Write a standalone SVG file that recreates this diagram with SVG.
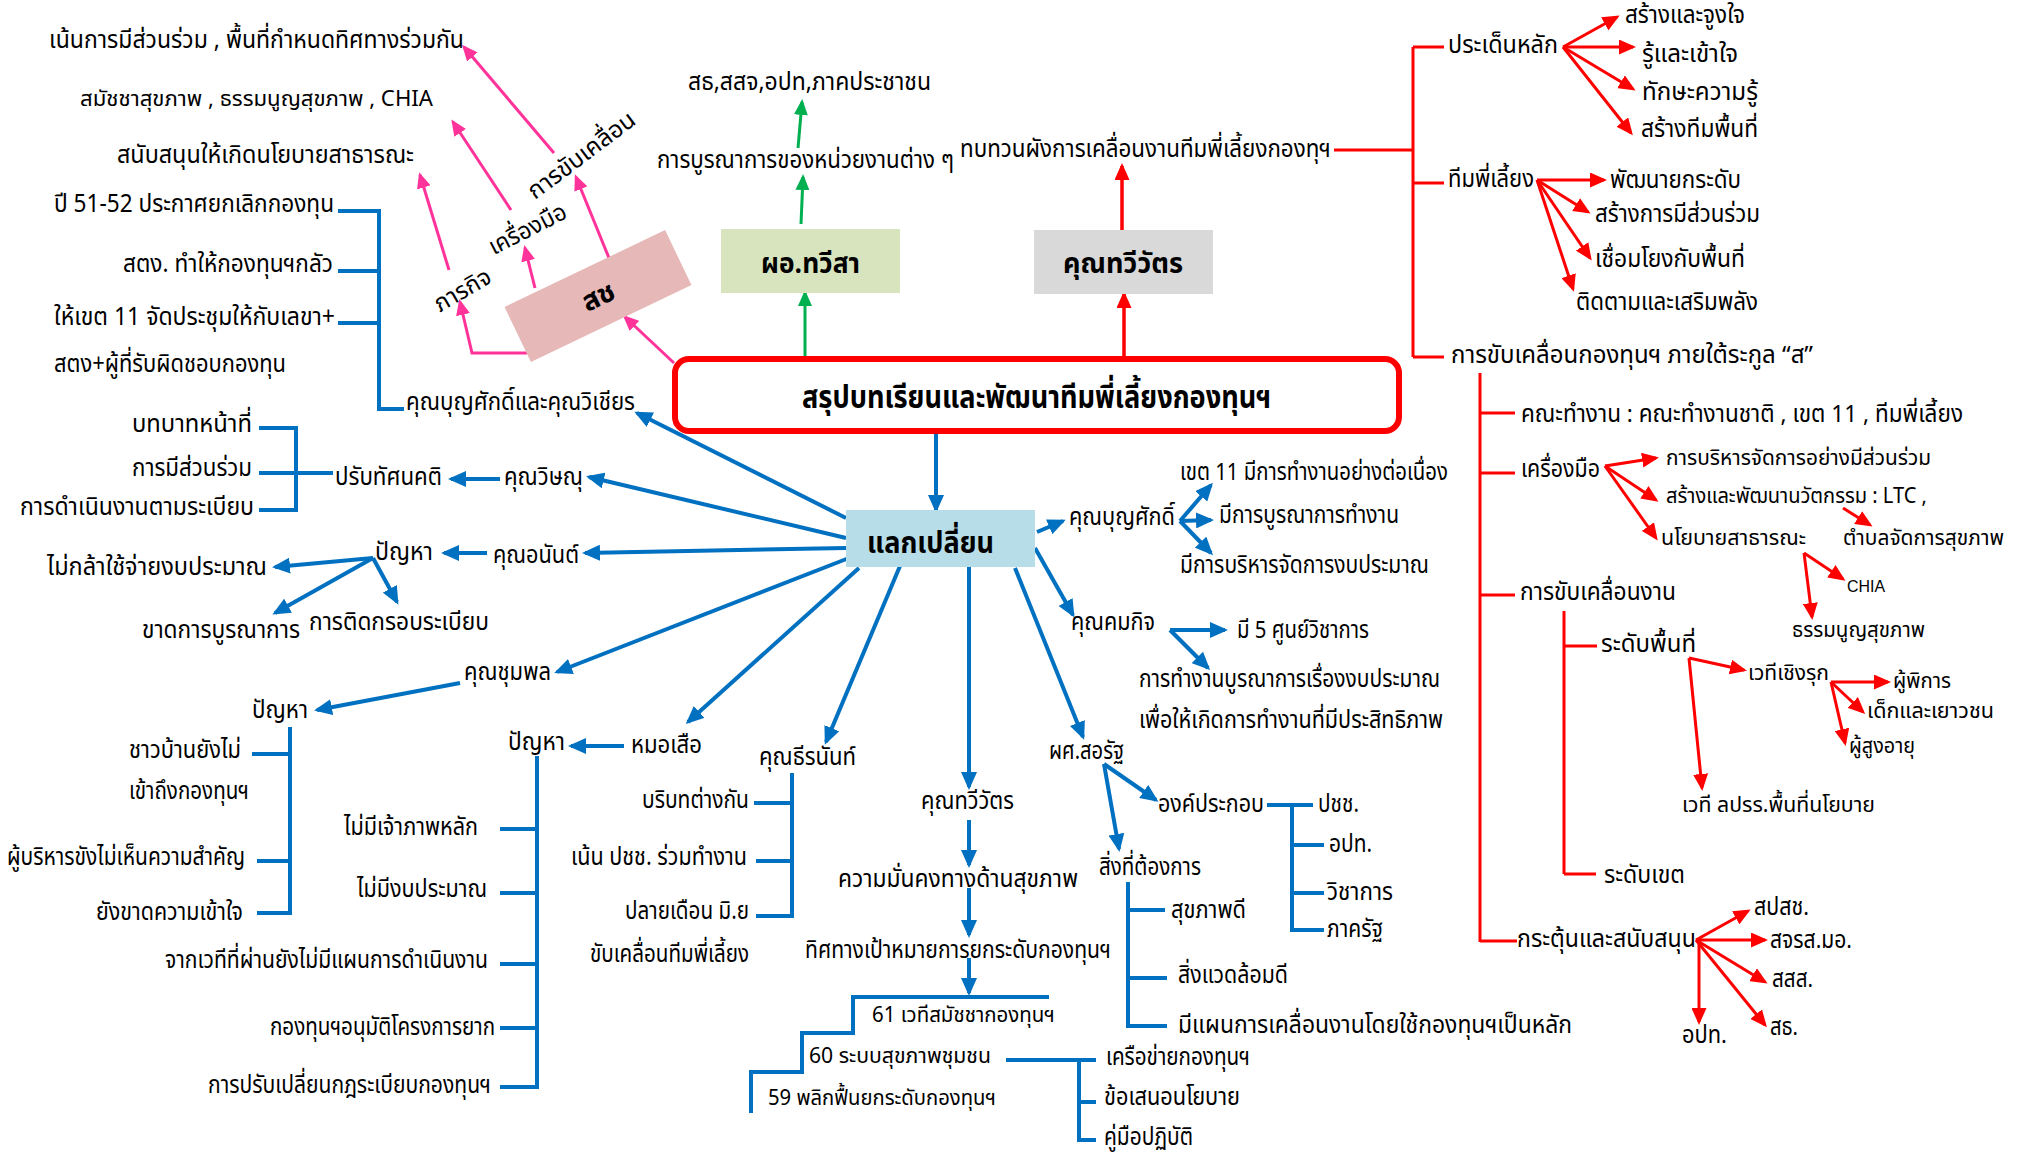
<svg xmlns="http://www.w3.org/2000/svg" width="2031" height="1156" viewBox="0 0 2031 1156">
<style>
text{font-family:"Noto Sans Thai","Noto Sans","DejaVu Sans",sans-serif;font-size:25px;fill:#000}
.s20{font-size:22px}.s22{font-size:24px}
.b{font-weight:bold}
.lat{font-family:"Liberation Sans",Arial,sans-serif;font-size:16px}
.bl{stroke:#0070C0;stroke-width:4;fill:none}
.rd{stroke:#FF0000;stroke-width:3;fill:none}
.pk{stroke:#FF3399;stroke-width:3;fill:none}
.gr{stroke:#00B050;stroke-width:3;fill:none}
.ab{marker-end:url(#mb)}.ar{marker-end:url(#mr)}.ap{marker-end:url(#mp)}.ag{marker-end:url(#mg)}
</style>
<defs>
<marker id="mb" markerUnits="userSpaceOnUse" markerWidth="18" markerHeight="16" refX="15" refY="8" orient="auto"><path d="M0,0 L18,8 L0,16 z" fill="#0070C0"/></marker>
<marker id="mr" markerUnits="userSpaceOnUse" markerWidth="17" markerHeight="15" refX="14" refY="7.5" orient="auto"><path d="M0,0 L17,7.5 L0,15 z" fill="#FF0000"/></marker>
<marker id="mp" markerUnits="userSpaceOnUse" markerWidth="16" markerHeight="14" refX="13" refY="7" orient="auto"><path d="M0,0 L16,7 L0,14 z" fill="#FF3399"/></marker>
<marker id="mg" markerUnits="userSpaceOnUse" markerWidth="16" markerHeight="14" refX="13" refY="7" orient="auto"><path d="M0,0 L16,7 L0,14 z" fill="#00B050"/></marker>
</defs>
<rect width="2031" height="1156" fill="#fff"/>

<g id="connectors">
<!-- pink -->
<line class="pk ap" x1="674" y1="363" x2="625" y2="317"/>
<polyline class="pk ap" points="527,353 472,353 460,302"/>
<line class="pk ap" x1="449" y1="270" x2="420" y2="175"/>
<line class="pk ap" x1="535" y1="288" x2="525" y2="248"/>
<line class="pk ap" x1="511" y1="210" x2="453" y2="122"/>
<line class="pk ap" x1="609" y1="258" x2="576" y2="177"/>
<line class="pk ap" x1="554" y1="153" x2="464" y2="47"/>
<!-- green -->
<line class="gr ag" x1="805" y1="357" x2="805" y2="293"/>
<line class="gr ag" x1="801" y1="224" x2="803" y2="177"/>
<line class="gr ag" x1="798" y1="148" x2="802" y2="102"/>
<!-- red -->
<line class="rd ar" style="stroke-width:3.5" x1="1124" y1="358" x2="1124" y2="294"/>
<line class="rd ar" style="stroke-width:3.5" x1="1122" y1="230" x2="1122" y2="166"/>
<path class="rd" d="M1334,150 H1413 M1413,47 V357 M1413,47 H1444 M1413,183 H1444 M1413,357 H1444"/>
<line class="rd ar" x1="1563" y1="47" x2="1617" y2="17"/>
<line class="rd ar" x1="1563" y1="47" x2="1633" y2="47"/>
<line class="rd ar" x1="1563" y1="47" x2="1633" y2="89"/>
<line class="rd ar" x1="1563" y1="47" x2="1631" y2="133"/>
<line class="rd ar" x1="1537" y1="180" x2="1604" y2="180"/>
<line class="rd ar" x1="1537" y1="180" x2="1588" y2="212"/>
<line class="rd ar" x1="1537" y1="180" x2="1590" y2="258"/>
<line class="rd ar" x1="1537" y1="180" x2="1573" y2="289"/>
<path class="rd" d="M1480,373 V942 M1480,413 H1515 M1480,473 H1515 M1480,595 H1515 M1480,941 H1517"/>
<line class="rd ar" x1="1605" y1="466" x2="1656" y2="458"/>
<line class="rd ar" x1="1605" y1="466" x2="1656" y2="500"/>
<line class="rd ar" x1="1605" y1="466" x2="1656" y2="538"/>
<line class="rd ar" x1="1843" y1="508" x2="1870" y2="525"/>
<line class="rd ar" x1="1804" y1="553" x2="1843" y2="579"/>
<line class="rd ar" x1="1804" y1="553" x2="1812" y2="617"/>
<path class="rd" d="M1564,611 V874 M1564,646 H1597 M1564,874 H1596"/>
<line class="rd ar" x1="1689" y1="658" x2="1744" y2="670"/>
<line class="rd ar" x1="1689" y1="658" x2="1702" y2="788"/>
<line class="rd ar" x1="1831" y1="682" x2="1888" y2="682"/>
<line class="rd ar" x1="1831" y1="682" x2="1863" y2="712"/>
<line class="rd ar" x1="1831" y1="682" x2="1845" y2="743"/>
<line class="rd ar" x1="1696" y1="940" x2="1748" y2="911"/>
<line class="rd ar" x1="1696" y1="940" x2="1765" y2="940"/>
<line class="rd ar" x1="1696" y1="940" x2="1765" y2="982"/>
<line class="rd ar" x1="1696" y1="940" x2="1765" y2="1025"/>
<line class="rd ar" x1="1699" y1="940" x2="1699" y2="1022"/>
<!-- blue spokes -->
<line class="bl ab" x1="936" y1="431" x2="936" y2="510"/>
<line class="bl ab" x1="846" y1="518" x2="637" y2="413"/>
<line class="bl ab" x1="846" y1="538" x2="589" y2="477"/>
<line class="bl ab" x1="846" y1="548" x2="585" y2="553"/>
<line class="bl ab" x1="849" y1="558" x2="557" y2="672"/>
<line class="bl ab" x1="859" y1="568" x2="688" y2="722"/>
<line class="bl ab" x1="900" y1="566" x2="826" y2="742"/>
<line class="bl ab" x1="969" y1="567" x2="969" y2="787"/>
<line class="bl ab" x1="1015" y1="568" x2="1083" y2="737"/>
<line class="bl ab" x1="1035" y1="548" x2="1073" y2="615"/>
<line class="bl ab" x1="1037" y1="532" x2="1063" y2="521"/>
<!-- blue sub-arrows -->
<line class="bl ab" x1="500" y1="479" x2="451" y2="479"/>
<line class="bl ab" x1="487" y1="553" x2="444" y2="553"/>
<line class="bl ab" x1="373" y1="558" x2="275" y2="567"/>
<line class="bl ab" x1="373" y1="558" x2="275" y2="613"/>
<line class="bl ab" x1="373" y1="558" x2="397" y2="602"/>
<line class="bl ab" x1="460" y1="683" x2="317" y2="710"/>
<line class="bl ab" x1="624" y1="746" x2="571" y2="746"/>
<line class="bl ab" x1="969" y1="820" x2="969" y2="865"/>
<line class="bl ab" x1="969" y1="888" x2="969" y2="935"/>
<line class="bl ab" x1="969" y1="958" x2="969" y2="993"/>
<line class="bl ab" x1="1104" y1="764" x2="1156" y2="800"/>
<line class="bl ab" x1="1104" y1="764" x2="1119" y2="849"/>
<line class="bl ab" x1="1170" y1="630" x2="1225" y2="630"/>
<line class="bl ab" x1="1170" y1="630" x2="1208" y2="668"/>
<line class="bl ab" x1="1180" y1="521" x2="1211" y2="485"/>
<line class="bl ab" x1="1180" y1="521" x2="1211" y2="520"/>
<line class="bl ab" x1="1180" y1="521" x2="1211" y2="553"/>
<!-- blue brackets -->
<path class="bl" d="M338,211 H379 V409 H404 M338,271 H379 M338,323 H379"/>
<path class="bl" d="M259,428 H296 V510 H259 M259,473 H333"/>
<path class="bl" d="M290,727 V915 M252,754 H290 M257,861 H290 M257,913 H290"/>
<path class="bl" d="M537,756 V1089 M500,829 H537 M500,893 H537 M500,964 H537 M500,1028 H537 M500,1087 H537"/>
<path class="bl" d="M792,773 V918 M754,803 H792 M756,861 H792 M756,916 H792"/>
<path class="bl" d="M1049,997 H853 V1033 H802 V1072 H751 V1113"/>
<path class="bl" d="M1006,1060 H1096 M1079,1060 V1142 M1079,1102 H1096 M1079,1140 H1096"/>
<path class="bl" d="M1267,805 H1313 M1292,805 V932 M1292,845 H1324 M1292,893 H1324 M1292,930 H1324"/>
<path class="bl" d="M1128,882 V1028 M1128,910 H1165 M1128,978 H1167 M1128,1026 H1167"/>
</g>

<g id="n-main"><rect x="675" y="359" width="724" height="72" rx="14" fill="#fff" stroke="#FF0000" stroke-width="6"/><text class="b" style="font-size:32px" x="802" y="408" textLength="469" lengthAdjust="spacingAndGlyphs">สรุปบทเรียนและพัฒนาทีมพี่เลี้ยงกองทุนฯ</text></g>

<g id="n-soch"><rect x="-89" y="-30.5" width="178" height="61" fill="#E6B8B7" transform="translate(598,296) rotate(-25.6)"/><text class="b" style="font-size:28px" text-anchor="middle" transform="translate(598,296) rotate(-25.6)" x="0" y="10">สช</text></g>
<g id="n-pk-mission"><text class="s22" text-anchor="middle" transform="translate(463,291) rotate(-30)" x="0" y="7" textLength="62" lengthAdjust="spacingAndGlyphs">ภารกิจ</text></g>
<g id="n-pk-tool"><text class="s22" text-anchor="middle" transform="translate(528,230) rotate(-27)" x="0" y="7" textLength="84" lengthAdjust="spacingAndGlyphs">เครื่องมือ</text></g>
<g id="n-pk-drive"><text class="s22" text-anchor="middle" transform="translate(582,156) rotate(-37)" x="0" y="7" textLength="128" lengthAdjust="spacingAndGlyphs">การขับเคลื่อน</text></g>
<g id="n-pk-1"><text x="49" y="48" textLength="415" lengthAdjust="spacingAndGlyphs">เน้นการมีส่วนร่วม , พื้นที่กำหนดทิศทางร่วมกัน</text></g>
<g id="n-pk-2"><text class="s20" x="80" y="106" textLength="353" lengthAdjust="spacingAndGlyphs">สมัชชาสุขภาพ , ธรรมนูญสุขภาพ , CHIA</text></g>
<g id="n-pk-3"><text x="117" y="163" textLength="297" lengthAdjust="spacingAndGlyphs">สนับสนุนให้เกิดนโยบายสาธารณะ</text></g>

<g id="n-green"><rect x="721" y="229" width="179" height="64" fill="#D7E4BD"/><text class="b" style="font-size:28px" x="761" y="273" textLength="99" lengthAdjust="spacingAndGlyphs">ผอ.ทวีสา</text></g>
<g id="n-g1"><text x="657" y="168" textLength="297" lengthAdjust="spacingAndGlyphs">การบูรณาการของหน่วยงานต่าง ๆ</text></g>
<g id="n-g2"><text x="688" y="90" textLength="243" lengthAdjust="spacingAndGlyphs">สธ,สสจ,อปท,ภาคประชาชน</text></g>

<g id="n-gray"><rect x="1034" y="230" width="179" height="64" fill="#D9D9D9"/><text class="b" style="font-size:28px" x="1063" y="273" textLength="120" lengthAdjust="spacingAndGlyphs">คุณทวีวัตร</text></g>
<g id="n-review"><text x="960" y="157" textLength="371" lengthAdjust="spacingAndGlyphs">ทบทวนผังการเคลื่อนงานทีมพี่เลี้ยงกองทุฯ</text></g>

<g id="n-r-issue"><text class="s22" x="1448" y="53" textLength="110" lengthAdjust="spacingAndGlyphs">ประเด็นหลัก</text></g>
<g id="n-r-i1"><text class="s22" x="1625" y="23" textLength="120" lengthAdjust="spacingAndGlyphs">สร้างและจูงใจ</text></g>
<g id="n-r-i2"><text class="s22" x="1642" y="62" textLength="96" lengthAdjust="spacingAndGlyphs">รู้และเข้าใจ</text></g>
<g id="n-r-i3"><text class="s22" x="1642" y="100" textLength="116" lengthAdjust="spacingAndGlyphs">ทักษะความรู้</text></g>
<g id="n-r-i4"><text class="s22" x="1641" y="137" textLength="117" lengthAdjust="spacingAndGlyphs">สร้างทีมพื้นที่</text></g>
<g id="n-r-team"><text class="s22" x="1448" y="187" textLength="86" lengthAdjust="spacingAndGlyphs">ทีมพี่เลี้ยง</text></g>
<g id="n-r-t1"><text class="s22" x="1610" y="188" textLength="131" lengthAdjust="spacingAndGlyphs">พัฒนายกระดับ</text></g>
<g id="n-r-t2"><text class="s22" x="1595" y="222" textLength="165" lengthAdjust="spacingAndGlyphs">สร้างการมีส่วนร่วม</text></g>
<g id="n-r-t3"><text class="s22" x="1595" y="267" textLength="150" lengthAdjust="spacingAndGlyphs">เชื่อมโยงกับพื้นที่</text></g>
<g id="n-r-t4"><text class="s22" x="1576" y="310" textLength="182" lengthAdjust="spacingAndGlyphs">ติดตามและเสริมพลัง</text></g>
<g id="n-r-drive"><text class="s22" x="1451" y="363" textLength="362" lengthAdjust="spacingAndGlyphs">การขับเคลื่อนกองทุนฯ ภายใต้ระกูล “ส”</text></g>
<g id="n-r-wg"><text class="s22" x="1521" y="422" textLength="442" lengthAdjust="spacingAndGlyphs">คณะทำงาน : คณะทำงานชาติ , เขต 11 , ทีมพี่เลี้ยง</text></g>
<g id="n-r-tool"><text class="s22" x="1521" y="477" textLength="79" lengthAdjust="spacingAndGlyphs">เครื่องมือ</text></g>
<g id="n-r-tl1"><text class="s20" x="1666" y="465" textLength="265" lengthAdjust="spacingAndGlyphs">การบริหารจัดการอย่างมีส่วนร่วม</text></g>
<g id="n-r-tl2"><text class="s20" x="1666" y="503" textLength="261" lengthAdjust="spacingAndGlyphs">สร้างและพัฒนานวัตกรรม : LTC ,</text></g>
<g id="n-r-tl3"><text class="s20" x="1661" y="545" textLength="145" lengthAdjust="spacingAndGlyphs">นโยบายสาธารณะ</text></g>
<g id="n-r-tl4"><text class="s20" x="1843" y="545" textLength="161" lengthAdjust="spacingAndGlyphs">ตำบลจัดการสุขภาพ</text></g>
<g id="n-r-chia"><text class="lat" x="1847" y="592" textLength="38" lengthAdjust="spacingAndGlyphs">CHIA</text></g>
<g id="n-r-tl5"><text class="s20" x="1792" y="637" textLength="133" lengthAdjust="spacingAndGlyphs">ธรรมนูญสุขภาพ</text></g>
<g id="n-r-work"><text class="s22" x="1520" y="600" textLength="156" lengthAdjust="spacingAndGlyphs">การขับเคลื่อนงาน</text></g>
<g id="n-r-area"><text class="s22" x="1601" y="652" textLength="95" lengthAdjust="spacingAndGlyphs">ระดับพื้นที่</text></g>
<g id="n-r-forum"><text class="s20" x="1748" y="680" textLength="81" lengthAdjust="spacingAndGlyphs">เวทีเชิงรุก</text></g>
<g id="n-r-f1"><text class="s20" x="1893" y="688" textLength="58" lengthAdjust="spacingAndGlyphs">ผู้พิการ</text></g>
<g id="n-r-f2"><text class="s20" x="1867" y="718" textLength="127" lengthAdjust="spacingAndGlyphs">เด็กและเยาวชน</text></g>
<g id="n-r-f3"><text class="s20" x="1849" y="753" textLength="66" lengthAdjust="spacingAndGlyphs">ผู้สูงอายุ</text></g>
<g id="n-r-policy"><text class="s20" x="1682" y="812" textLength="193" lengthAdjust="spacingAndGlyphs">เวที ลปรร.พื้นที่นโยบาย</text></g>
<g id="n-r-zone"><text class="s22" x="1604" y="883" textLength="81" lengthAdjust="spacingAndGlyphs">ระดับเขต</text></g>
<g id="n-r-support"><text class="s22" x="1517" y="947" textLength="179" lengthAdjust="spacingAndGlyphs">กระตุ้นและสนับสนุน</text></g>
<g id="n-r-s1"><text class="s22" x="1754" y="915" textLength="55" lengthAdjust="spacingAndGlyphs">สปสช.</text></g>
<g id="n-r-s2"><text class="s22" x="1770" y="948" textLength="82" lengthAdjust="spacingAndGlyphs">สจรส.มอ.</text></g>
<g id="n-r-s3"><text class="s22" x="1772" y="987" textLength="41" lengthAdjust="spacingAndGlyphs">สสส.</text></g>
<g id="n-r-s4"><text class="s22" x="1770" y="1035" textLength="28" lengthAdjust="spacingAndGlyphs">สธ.</text></g>
<g id="n-r-s5"><text class="s22" x="1682" y="1043" textLength="45" lengthAdjust="spacingAndGlyphs">อปท.</text></g>

<g id="n-exchange"><rect x="846" y="510" width="189" height="57" fill="#B7DDE8"/><text class="b" style="font-size:30px" x="867" y="553" textLength="127" lengthAdjust="spacingAndGlyphs">แลกเปลี่ยน</text></g>

<g id="n-wichian"><text x="406" y="410" textLength="229" lengthAdjust="spacingAndGlyphs">คุณบุญศักดิ์และคุณวิเชียร</text></g>
<g id="n-w1"><text x="54" y="212" textLength="280" lengthAdjust="spacingAndGlyphs">ปี 51-52 ประกาศยกเลิกกองทุน</text></g>
<g id="n-w2"><text x="123" y="272" textLength="210" lengthAdjust="spacingAndGlyphs">สตง. ทำให้กองทุนฯกลัว</text></g>
<g id="n-w3"><text x="54" y="325" textLength="281" lengthAdjust="spacingAndGlyphs">ให้เขต 11 จัดประชุมให้กับเลขา+</text></g>
<g id="n-w4"><text x="54" y="372" textLength="232" lengthAdjust="spacingAndGlyphs">สตง+ผู้ที่รับผิดชอบกองทุน</text></g>

<g id="n-witsanu"><text x="504" y="485" textLength="79" lengthAdjust="spacingAndGlyphs">คุณวิษณุ</text></g>
<g id="n-attitude"><text x="335" y="485" textLength="107" lengthAdjust="spacingAndGlyphs">ปรับทัศนคติ</text></g>
<g id="n-a1"><text x="132" y="432" textLength="120" lengthAdjust="spacingAndGlyphs">บทบาทหน้าที่</text></g>
<g id="n-a2"><text x="132" y="476" textLength="120" lengthAdjust="spacingAndGlyphs">การมีส่วนร่วม</text></g>
<g id="n-a3"><text x="20" y="515" textLength="234" lengthAdjust="spacingAndGlyphs">การดำเนินงานตามระเบียบ</text></g>

<g id="n-anan"><text x="493" y="563" textLength="86" lengthAdjust="spacingAndGlyphs">คุณอนันต์</text></g>
<g id="n-anan-p"><text x="375" y="560" textLength="58" lengthAdjust="spacingAndGlyphs">ปัญหา</text></g>
<g id="n-an1"><text x="47" y="575" textLength="220" lengthAdjust="spacingAndGlyphs">ไม่กล้าใช้จ่ายงบประมาณ</text></g>
<g id="n-an2"><text x="142" y="638" textLength="158" lengthAdjust="spacingAndGlyphs">ขาดการบูรณาการ</text></g>
<g id="n-an3"><text x="309" y="630" textLength="180" lengthAdjust="spacingAndGlyphs">การติดกรอบระเบียบ</text></g>

<g id="n-chumphon"><text x="464" y="680" textLength="87" lengthAdjust="spacingAndGlyphs">คุณชุมพล</text></g>
<g id="n-ch-p"><text x="252" y="718" textLength="56" lengthAdjust="spacingAndGlyphs">ปัญหา</text></g>
<g id="n-ch1"><text x="129" y="758" textLength="112" lengthAdjust="spacingAndGlyphs">ชาวบ้านยังไม่</text><text x="129" y="799" textLength="120" lengthAdjust="spacingAndGlyphs">เข้าถึงกองทุนฯ</text></g>
<g id="n-ch2"><text x="7" y="865" textLength="238" lengthAdjust="spacingAndGlyphs">ผู้บริหารขังไม่เห็นความสำคัญ</text></g>
<g id="n-ch3"><text x="96" y="920" textLength="147" lengthAdjust="spacingAndGlyphs">ยังขาดความเข้าใจ</text></g>

<g id="n-moesuea"><text x="631" y="753" textLength="71" lengthAdjust="spacingAndGlyphs">หมอเสือ</text></g>
<g id="n-ms-p"><text x="508" y="750" textLength="57" lengthAdjust="spacingAndGlyphs">ปัญหา</text></g>
<g id="n-ms1"><text x="344" y="835" textLength="134" lengthAdjust="spacingAndGlyphs">ไม่มีเจ้าภาพหลัก</text></g>
<g id="n-ms2"><text x="357" y="897" textLength="130" lengthAdjust="spacingAndGlyphs">ไม่มีงบประมาณ</text></g>
<g id="n-ms3"><text x="165" y="968" textLength="323" lengthAdjust="spacingAndGlyphs">จากเวทีที่ผ่านยังไม่มีแผนการดำเนินงาน</text></g>
<g id="n-ms4"><text x="270" y="1035" textLength="225" lengthAdjust="spacingAndGlyphs">กองทุนฯอนุมัติโครงการยาก</text></g>
<g id="n-ms5"><text x="208" y="1093" textLength="283" lengthAdjust="spacingAndGlyphs">การปรับเปลี่ยนกฎระเบียบกองทุนฯ</text></g>

<g id="n-theeranan"><text x="759" y="765" textLength="97" lengthAdjust="spacingAndGlyphs">คุณธีรนันท์</text></g>
<g id="n-th1"><text x="642" y="808" textLength="107" lengthAdjust="spacingAndGlyphs">บริบทต่างกัน</text></g>
<g id="n-th2"><text x="571" y="865" textLength="176" lengthAdjust="spacingAndGlyphs">เน้น ปชช. ร่วมทำงาน</text></g>
<g id="n-th3"><text x="625" y="919" textLength="124" lengthAdjust="spacingAndGlyphs">ปลายเดือน มิ.ย</text><text x="590" y="962" textLength="159" lengthAdjust="spacingAndGlyphs">ขับเคลื่อนทีมพี่เลี้ยง</text></g>

<g id="n-thawiwat2"><text x="921" y="809" textLength="93" lengthAdjust="spacingAndGlyphs">คุณทวีวัตร</text></g>
<g id="n-tw1"><text x="838" y="887" textLength="240" lengthAdjust="spacingAndGlyphs">ความมั่นคงทางด้านสุขภาพ</text></g>
<g id="n-tw2"><text x="805" y="958" textLength="306" lengthAdjust="spacingAndGlyphs">ทิศทางเป้าหมายการยกระดับกองทุนฯ</text></g>
<g id="n-tw61"><text class="s20" x="872" y="1022" textLength="183" lengthAdjust="spacingAndGlyphs">61 เวทีสมัชชากองทุนฯ</text></g>
<g id="n-tw60"><text class="s20" x="809" y="1063" textLength="182" lengthAdjust="spacingAndGlyphs">60 ระบบสุขภาพชุมชน</text></g>
<g id="n-tw59"><text class="s20" x="768" y="1105" textLength="228" lengthAdjust="spacingAndGlyphs">59 พลิกฟื้นยกระดับกองทุนฯ</text></g>
<g id="n-tw60a"><text class="s22" x="1106" y="1065" textLength="144" lengthAdjust="spacingAndGlyphs">เครือข่ายกองทุนฯ</text></g>
<g id="n-tw60b"><text class="s22" x="1104" y="1105" textLength="136" lengthAdjust="spacingAndGlyphs">ข้อเสนอนโยบาย</text></g>
<g id="n-tw60c"><text class="s22" x="1104" y="1145" textLength="89" lengthAdjust="spacingAndGlyphs">คู่มือปฏิบัติ</text></g>

<g id="n-sorat"><text x="1049" y="759" textLength="75" lengthAdjust="spacingAndGlyphs">ผศ.สอรัฐ</text></g>
<g id="n-so-comp"><text x="1158" y="812" textLength="106" lengthAdjust="spacingAndGlyphs">องค์ประกอบ</text></g>
<g id="n-so-c1"><text x="1318" y="812" textLength="41" lengthAdjust="spacingAndGlyphs">ปชช.</text></g>
<g id="n-so-c2"><text x="1329" y="852" textLength="43" lengthAdjust="spacingAndGlyphs">อปท.</text></g>
<g id="n-so-c3"><text x="1327" y="900" textLength="66" lengthAdjust="spacingAndGlyphs">วิชาการ</text></g>
<g id="n-so-c4"><text x="1327" y="937" textLength="56" lengthAdjust="spacingAndGlyphs">ภาครัฐ</text></g>
<g id="n-so-need"><text x="1099" y="875" textLength="102" lengthAdjust="spacingAndGlyphs">สิ่งที่ต้องการ</text></g>
<g id="n-so-n1"><text x="1171" y="918" textLength="75" lengthAdjust="spacingAndGlyphs">สุขภาพดี</text></g>
<g id="n-so-n2"><text x="1178" y="983" textLength="110" lengthAdjust="spacingAndGlyphs">สิ่งแวดล้อมดี</text></g>
<g id="n-so-n3"><text x="1178" y="1033" textLength="394" lengthAdjust="spacingAndGlyphs">มีแผนการเคลื่อนงานโดยใช้กองทุนฯเป็นหลัก</text></g>

<g id="n-khomkit"><text x="1071" y="630" textLength="84" lengthAdjust="spacingAndGlyphs">คุณคมกิจ</text></g>
<g id="n-kk1"><text class="s22" x="1237" y="638" textLength="132" lengthAdjust="spacingAndGlyphs">มี 5 ศูนย์วิชาการ</text></g>
<g id="n-kk2"><text class="s22" x="1139" y="687" textLength="301" lengthAdjust="spacingAndGlyphs">การทำงานบูรณาการเรื่องงบประมาณ</text><text class="s22" x="1139" y="728" textLength="304" lengthAdjust="spacingAndGlyphs">เพื่อให้เกิดการทำงานที่มีประสิทธิภาพ</text></g>

<g id="n-boonsak"><text x="1069" y="525" textLength="106" lengthAdjust="spacingAndGlyphs">คุณบุญศักดิ์</text></g>
<g id="n-bs1"><text class="s22" x="1180" y="480" textLength="268" lengthAdjust="spacingAndGlyphs">เขต 11 มีการทำงานอย่างต่อเนื่อง</text></g>
<g id="n-bs2"><text class="s22" x="1219" y="523" textLength="180" lengthAdjust="spacingAndGlyphs">มีการบูรณาการทำงาน</text></g>
<g id="n-bs3"><text class="s22" x="1180" y="573" textLength="249" lengthAdjust="spacingAndGlyphs">มีการบริหารจัดการงบประมาณ</text></g>
</svg>
